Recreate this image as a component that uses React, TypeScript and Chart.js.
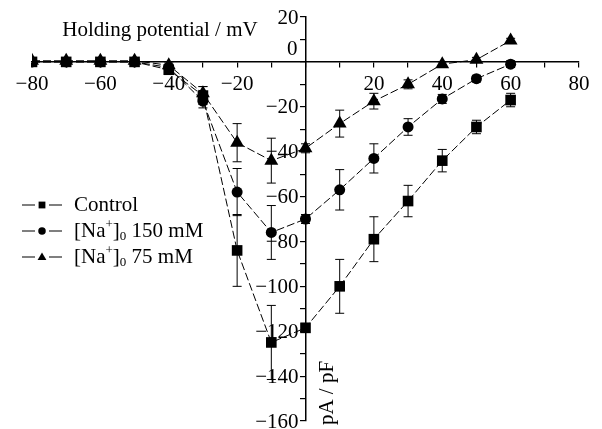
import React, { useEffect, useRef } from 'react';
import { Chart, registerables } from 'chart.js';
Chart.register(...registerables);

const voltages = [-80, -70, -60, -50, -40, -30, -20, -10, 0, 10, 20, 30, 40, 50, 60];
const controlMean = [0, 0, 0, 0, -3.5, -15, -84, -125, -118.5, -100, -79, -62, -44, -29, -17];
const controlErr = [0, 0, 0, 0, 1.5, 4, 16, 16.5, 2, 12, 10, 7, 5, 3, 3];
const na150Mean = [0, 0, 0, 0, -2.5, -17.5, -58, -76, -70, -57, -43, -29, -16.5, -7.5, -1];
const na150Err = [0, 0, 0, 0, 1, 3, 10.5, 12, 2, 9, 6.5, 3.7, 2, 1.5, 1.5];
const na75Mean = [0.5, 0.5, 0.5, 0.5, -1.5, -14, -36, -44, -38.5, -27.5, -17.5, -10, -1, 1, 9.5];
const na75Err = [0, 0, 0, 0, 1, 3, 8.5, 10, 2, 6, 3.5, 2, 1, 1, 1];

const xTitle = 'Holding potential / mV';
const yTitle = 'pA / pF';
const seriesNames = ['Control', '150 mM', '75 mM'];

const FONT = '"Liberation Serif", "Times New Roman", serif';
const FS = 21;
const fmt = (v: number) => (v < 0 ? '\u2212' + Math.abs(v) : String(v));

function drawMarker(ctx: CanvasRenderingContext2D, kind: string, x: number, y: number, s: number) {
  ctx.beginPath();
  if (kind === 'rect') {
    ctx.rect(x - s, y - s, 2 * s, 2 * s);
  } else if (kind === 'circle') {
    ctx.arc(x, y, s * 1.1, 0, Math.PI * 2);
  } else {
    ctx.moveTo(x, y - s * 1.3);
    ctx.lineTo(x + s * 1.3, y + s * 0.9);
    ctx.lineTo(x - s * 1.3, y + s * 0.9);
    ctx.closePath();
  }
  ctx.fill();
}

const errorPlugin = {
  id: 'errBars',
  beforeDatasetsDraw(chart: any) {
    const ctx = chart.ctx;
    const xs = chart.scales.x;
    const ys = chart.scales.y;
    const errs = [controlErr, na150Err, na75Err];
    ctx.save();
    ctx.strokeStyle = '#000';
    ctx.lineWidth = 1;
    chart.data.datasets.forEach((ds: any, i: number) => {
      ds.data.forEach((p: any, j: number) => {
        const e = errs[i][j];
        if (!e) return;
        const px = xs.getPixelForValue(p.x);
        const top = ys.getPixelForValue(p.y + e);
        const bot = ys.getPixelForValue(p.y - e);
        ctx.beginPath();
        ctx.moveTo(px, top);
        ctx.lineTo(px, bot);
        ctx.moveTo(px - 4.5, top);
        ctx.lineTo(px + 4.5, top);
        ctx.moveTo(px - 4.5, bot);
        ctx.lineTo(px + 4.5, bot);
        ctx.stroke();
      });
    });
    ctx.restore();
  },
};

const textPlugin = {
  id: 'texts',
  afterDraw(chart: any) {
    const ctx = chart.ctx;
    const xs = chart.scales.x;
    const ys = chart.scales.y;
    const ax = xs.getPixelForValue(0);
    ctx.save();
    ctx.fillStyle = '#000';
    ctx.strokeStyle = '#000';
    ctx.font = `${FS}px ${FONT}`;
    // x title
    ctx.textAlign = 'center';
    ctx.textBaseline = 'middle';
    ctx.fillText(xTitle, 160, 30);
    // y tick labels (from the y scale's ticks)
    ctx.textAlign = 'right';
    ys.ticks.forEach((t: any) => {
      const v = t.value;
      if (v % 20 !== 0) return;
      const py = ys.getPixelForValue(v);
      if (v === 0) ctx.fillText('0', ax - 8, py - 12);
      else ctx.fillText(fmt(v), ax - 7, py + 1);
    });
    // y title rotated
    ctx.save();
    ctx.translate(ax + 22, 393);
    ctx.rotate(-Math.PI / 2);
    ctx.textAlign = 'center';
    ctx.textBaseline = 'middle';
    ctx.fillText(yTitle, 0, 0);
    ctx.restore();
    // legend
    const kinds = ['rect', 'circle', 'triangle'];
    const rowsY = [205, 231, 257];
    kinds.forEach((k, i) => {
      const y = rowsY[i];
      ctx.lineWidth = 1.2;
      ctx.beginPath();
      ctx.moveTo(22, y);
      ctx.lineTo(35, y);
      ctx.moveTo(49, y);
      ctx.lineTo(62, y);
      ctx.stroke();
      drawMarker(ctx, k, 42, y, 3.4);
      ctx.textAlign = 'left';
      ctx.textBaseline = 'middle';
      let x = 74;
      ctx.font = `${FS}px ${FONT}`;
      if (i === 0) {
        ctx.fillText(seriesNames[0], x, y);
      } else {
        ctx.fillText('[Na', x, y);
        x += ctx.measureText('[Na').width;
        ctx.font = `13px ${FONT}`;
        ctx.fillText('+', x, y - 6);
        x += ctx.measureText('+').width;
        ctx.font = `${FS}px ${FONT}`;
        ctx.fillText(']', x, y);
        x += ctx.measureText(']').width;
        ctx.font = `13px ${FONT}`;
        ctx.fillText('0', x, y + 6);
        x += ctx.measureText('0').width;
        ctx.font = `${FS}px ${FONT}`;
        ctx.fillText(' ' + seriesNames[i], x, y);
      }
    });
    ctx.restore();
  },
};

function toPts(ys: number[]) {
  return voltages.map((v, i) => ({ x: v, y: ys[i] }));
}

export default function App() {
  const ref = useRef<HTMLCanvasElement | null>(null);
  useEffect(() => {
    if (!ref.current) return;
    const common = {
      borderColor: '#000',
      backgroundColor: '#000',
      pointBackgroundColor: '#000',
      pointBorderColor: '#000',
      borderWidth: 1,
      borderDash: [8, 3],
      showLine: true,
      pointBorderWidth: 0,
    };
    const chart = new Chart(ref.current, {
      type: 'scatter',
      data: {
        datasets: [
          { ...common, label: 'Control', data: toPts(controlMean), pointStyle: 'rect', pointRadius: 7.5 },
          { ...common, label: '150', data: toPts(na150Mean), pointStyle: 'circle', pointRadius: 5.5 },
          { ...common, label: '75', data: toPts(na75Mean), pointStyle: 'triangle', pointRadius: 8 },
        ],
      },
      options: {
        animation: false,
        responsive: false,
        events: [],
        layout: { padding: { left: 32, right: 23, top: 17, bottom: 1 } },
        plugins: { legend: { display: false }, tooltip: { enabled: false } },
        scales: {
          x: {
            type: 'linear',
            position: { y: 0 } as any,
            min: -80,
            max: 80,
            border: { color: '#000', width: 1.5 },
            grid: { drawOnChartArea: false, drawTicks: true, tickLength: 5, color: '#000', lineWidth: 1.2 },
            ticks: {
              stepSize: 10,
              autoSkip: false,
              maxRotation: 0,
              padding: 5,
              color: '#000',
              font: { family: FONT, size: FS },
              callback: (v: any) => (v % 20 === 0 && v !== 0 ? fmt(v) : ''),
            },
          },
          y: {
            type: 'linear',
            position: { x: 0 } as any,
            min: -160,
            max: 20,
            border: { color: '#000', width: 1.5 },
            grid: { drawOnChartArea: false, drawTicks: true, tickLength: 5, color: '#000', lineWidth: 1.2 },
            ticks: {
              stepSize: 10,
              autoSkip: false,
              display: false,
              font: { family: FONT, size: FS },
            },
          },
        },
      },
      plugins: [errorPlugin, textPlugin],
    } as any);
    return () => chart.destroy();
  }, []);
  return (
    <div style={{ position: 'fixed', left: 0, top: 0, width: 602, height: 429, background: '#fff' }}>
      <canvas ref={ref} width={602} height={429} />
    </div>
  );
}
